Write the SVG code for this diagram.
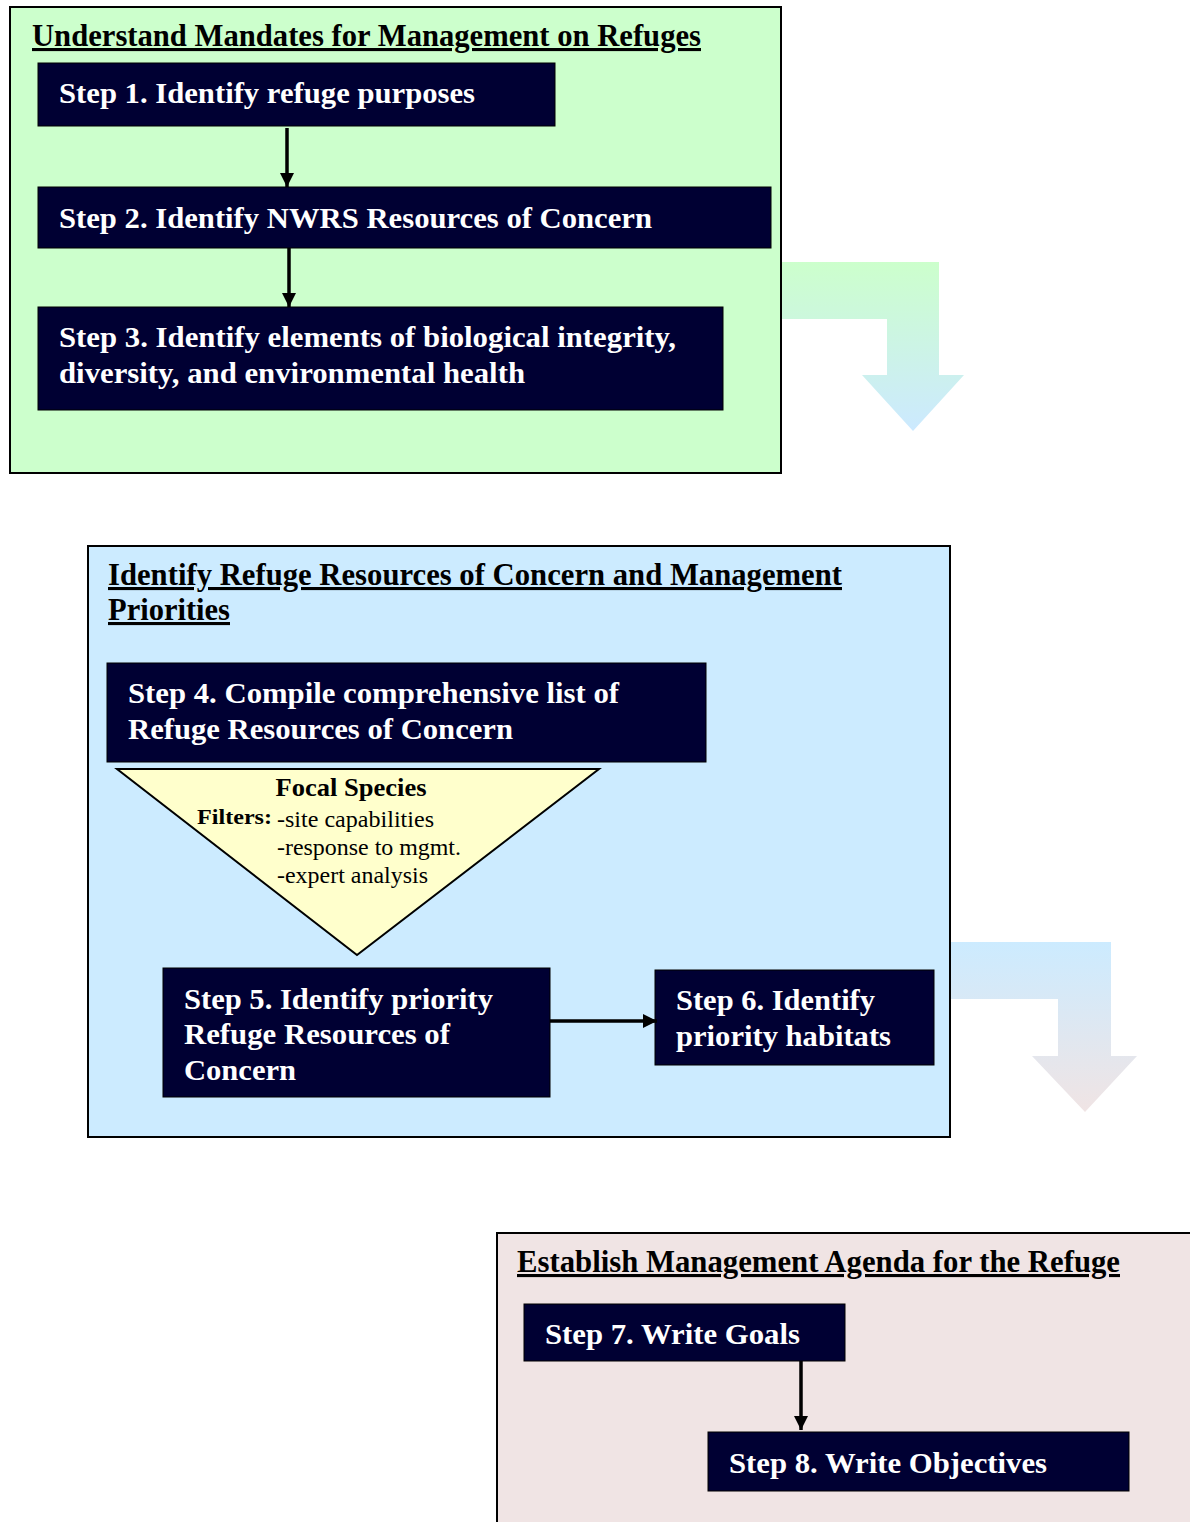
<svg xmlns="http://www.w3.org/2000/svg" width="1190" height="1522" viewBox="0 0 1190 1522">
<style>
.panel{stroke:#000;stroke-width:2}
.step{fill:#000033;stroke:#000;stroke-width:1}
.st{font-family:"Liberation Serif","Times New Roman",serif;font-weight:bold;font-size:30px;fill:#fff}
.tt{font-family:"Liberation Serif","Times New Roman",serif;font-weight:bold;font-size:31px;fill:#000;text-decoration:underline}
.fs{font-family:"Liberation Serif","Times New Roman",serif;font-size:23px;fill:#000}
.conn{stroke:#000;stroke-width:3.5;fill:none}
</style>
<defs>
<marker id="ah" viewBox="0 0 10 10" refX="10" refY="5" markerWidth="4" markerHeight="4" orient="auto" markerUnits="strokeWidth">
<path d="M0,0 L10,5 L0,10 Z" fill="#000"/>
</marker>
<linearGradient id="g1" x1="0" y1="262" x2="0" y2="431" gradientUnits="userSpaceOnUse">
<stop offset="0" stop-color="#CCFFCC"/><stop offset="1" stop-color="#CCE9FF"/>
</linearGradient>
<linearGradient id="g2" x1="0" y1="942" x2="0" y2="1112" gradientUnits="userSpaceOnUse">
<stop offset="0" stop-color="#CCEBFF"/><stop offset="1" stop-color="#F0E4E4"/>
</linearGradient>
</defs>

<g id="bent-arrow-1">
<path d="M782,262 H939 V375 H964 L913,431 L862,375 H887 V319 H782 Z" fill="url(#g1)"/>
</g>
<g id="bent-arrow-2">
<path d="M951,942 H1111 V1056 H1137 L1085,1112 L1032,1056 H1058 V999 H951 Z" fill="url(#g2)"/>
</g>

<g id="panel1">
<rect class="panel" x="10" y="7" width="771" height="466" fill="#CCFFCC"/>
<text class="tt" x="32" y="46" textLength="669" lengthAdjust="spacingAndGlyphs">Understand Mandates for Management on Refuges</text>
</g>
<g id="step1">
<rect class="step" x="38" y="63" width="517" height="63"/>
<text class="st" x="59" y="103" textLength="416" lengthAdjust="spacingAndGlyphs">Step 1. Identify refuge purposes</text>
</g>
<g id="step2">
<rect class="step" x="38" y="187" width="733" height="61"/>
<text class="st" x="59" y="228" textLength="593" lengthAdjust="spacingAndGlyphs">Step 2. Identify NWRS Resources of Concern</text>
</g>
<g id="step3">
<rect class="step" x="38" y="307" width="685" height="103"/>
<text class="st" x="59" y="347" textLength="617" lengthAdjust="spacingAndGlyphs">Step 3. Identify elements of biological integrity,</text>
<text class="st" x="59" y="383" textLength="466" lengthAdjust="spacingAndGlyphs">diversity, and environmental health</text>
</g>

<g id="panel2">
<rect class="panel" x="88" y="546" width="862" height="591" fill="#CCEBFF"/>
<text class="tt" x="108" y="585" textLength="734" lengthAdjust="spacingAndGlyphs">Identify Refuge Resources of Concern and Management</text>
<text class="tt" x="108" y="620" textLength="122" lengthAdjust="spacingAndGlyphs">Priorities</text>
</g>
<g id="step4">
<rect class="step" x="107" y="663" width="599" height="99"/>
<text class="st" x="128" y="703" textLength="491" lengthAdjust="spacingAndGlyphs">Step 4. Compile comprehensive list of</text>
<text class="st" x="128" y="739" textLength="385" lengthAdjust="spacingAndGlyphs">Refuge Resources of Concern</text>
</g>
<g id="focal-species">
<polygon points="117,769 599,769 357,955" fill="#FFFFCC" stroke="#000" stroke-width="2"/>
<text x="351" y="796" text-anchor="middle" font-family="Liberation Serif, serif" font-weight="bold" font-size="25" textLength="151" lengthAdjust="spacingAndGlyphs">Focal Species</text>
<text x="197" y="824" font-family="Liberation Serif, serif" font-weight="bold" font-size="21" textLength="75" lengthAdjust="spacingAndGlyphs">Filters:</text>
<text class="fs" x="277" y="827" textLength="157" lengthAdjust="spacingAndGlyphs">-site capabilities</text>
<text class="fs" x="277" y="855" textLength="184" lengthAdjust="spacingAndGlyphs">-response to mgmt.</text>
<text class="fs" x="277" y="883" textLength="151" lengthAdjust="spacingAndGlyphs">-expert analysis</text>
</g>
<g id="step5">
<rect class="step" x="163" y="968" width="387" height="129"/>
<text class="st" x="184" y="1009" textLength="309" lengthAdjust="spacingAndGlyphs">Step 5. Identify priority</text>
<text class="st" x="184" y="1044" textLength="266" lengthAdjust="spacingAndGlyphs">Refuge Resources of</text>
<text class="st" x="184" y="1080" textLength="112" lengthAdjust="spacingAndGlyphs">Concern</text>
</g>
<g id="step6">
<rect class="step" x="655" y="970" width="279" height="95"/>
<text class="st" x="676" y="1010" textLength="199" lengthAdjust="spacingAndGlyphs">Step 6. Identify</text>
<text class="st" x="676" y="1046" textLength="215" lengthAdjust="spacingAndGlyphs">priority habitats</text>
</g>

<g id="panel3">
<rect class="panel" x="497" y="1233" width="700" height="300" fill="#F0E4E4"/>
<text class="tt" x="517" y="1272" textLength="603" lengthAdjust="spacingAndGlyphs">Establish Management Agenda for the Refuge</text>
</g>
<g id="step7">
<rect class="step" x="524" y="1304" width="321" height="57"/>
<text class="st" x="545" y="1344" textLength="255" lengthAdjust="spacingAndGlyphs">Step 7. Write Goals</text>
</g>
<g id="step8">
<rect class="step" x="708" y="1432" width="421" height="59"/>
<text class="st" x="729" y="1473" textLength="318" lengthAdjust="spacingAndGlyphs">Step 8. Write Objectives</text>
</g>

<g id="connectors">
<line class="conn" x1="287" y1="128" x2="287" y2="187" marker-end="url(#ah)"/>
<line class="conn" x1="289" y1="248" x2="289" y2="307" marker-end="url(#ah)"/>
<line class="conn" x1="550" y1="1021" x2="657" y2="1021" marker-end="url(#ah)"/>
<line class="conn" x1="801" y1="1361" x2="801" y2="1430" marker-end="url(#ah)"/>
</g>
</svg>
